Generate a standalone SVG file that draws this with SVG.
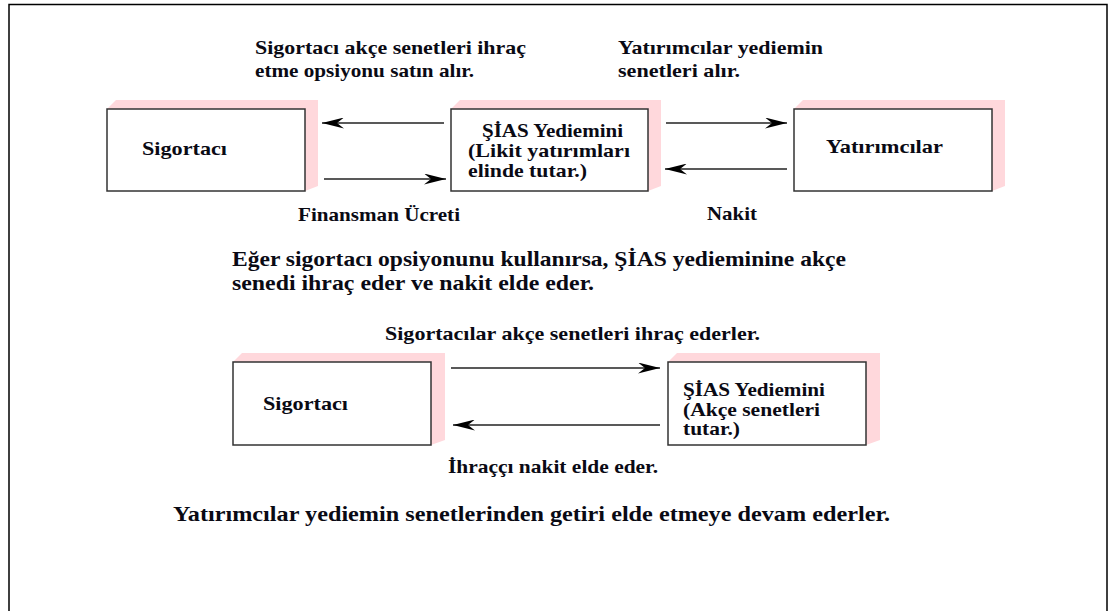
<svg xmlns="http://www.w3.org/2000/svg" width="1113" height="611" viewBox="0 0 1113 611">
<style>
text{font-family:'Liberation Serif','DejaVu Serif',serif;font-weight:700;fill:#0a0a14}
.box{fill:#fff;stroke:#333;stroke-width:1.5}
.ext{fill:#ffd8dc}
.con{stroke:#222;stroke-width:1.3;fill:none;marker-end:url(#ah)}
.t18{font-size:19px}
.t20{font-size:21px}
</style>
<defs>
<marker id="ah" markerUnits="userSpaceOnUse" viewBox="0 0 22 11" markerWidth="22" markerHeight="11" refX="22" refY="5.5" orient="auto">
<path d="M0,0 L22,5.5 L0,11 L7,5.5 Z" fill="#000"/>
</marker>
</defs>
<rect width="1113" height="611" fill="#fff"/>
<path d="M9,611 V4.5 H1107 V611" fill="none" stroke="#000" stroke-width="1.5"/>

<g id="label-top-left">
<text class="t18" x="255" y="54" textLength="271" lengthAdjust="spacingAndGlyphs">Sigortacı akçe senetleri ihraç</text>
<text class="t18" x="255" y="77" textLength="219" lengthAdjust="spacingAndGlyphs">etme opsiyonu satın alır.</text>
</g>
<g id="label-top-right">
<text class="t18" x="618" y="54" textLength="205" lengthAdjust="spacingAndGlyphs">Yatırımcılar yediemin</text>
<text class="t18" x="618" y="77" textLength="122" lengthAdjust="spacingAndGlyphs">senetleri alır.</text>
</g>

<g id="node-sigortaci-1">
<polygon class="ext" points="107,109 116,100 318,100 318,186 305,191"/>
<rect class="box" x="107" y="109" width="198" height="82"/>
<text class="t18" x="142" y="155" textLength="85" lengthAdjust="spacingAndGlyphs">Sigortacı</text>
</g>
<g id="node-sias-1">
<polygon class="ext" points="451,109 460,100 661,100 661,186 648,191"/>
<rect class="box" x="451" y="109" width="197" height="82"/>
<text class="t18" x="482" y="137" textLength="141" lengthAdjust="spacingAndGlyphs">ŞİAS Yediemini</text>
<text class="t18" x="468" y="157" textLength="162" lengthAdjust="spacingAndGlyphs">(Likit yatırımları</text>
<text class="t18" x="468" y="177" textLength="119" lengthAdjust="spacingAndGlyphs">elinde tutar.)</text>
</g>
<g id="node-yatirimcilar">
<polygon class="ext" points="794,109 803,100 1005,100 1005,186 992,191"/>
<rect class="box" x="794" y="109" width="198" height="82"/>
<text class="t18" x="826" y="153" textLength="117" lengthAdjust="spacingAndGlyphs">Yatırımcılar</text>
</g>

<g id="label-finansman"><text class="t18" x="298" y="221" textLength="162" lengthAdjust="spacingAndGlyphs">Finansman Ücreti</text></g>
<g id="label-nakit"><text class="t18" x="707" y="220" textLength="50" lengthAdjust="spacingAndGlyphs">Nakit</text></g>

<g id="label-eger">
<text class="t20" x="232" y="266" textLength="614" lengthAdjust="spacingAndGlyphs">Eğer sigortacı opsiyonunu kullanırsa, ŞİAS yedieminine akçe</text>
<text class="t20" x="232" y="290" textLength="362" lengthAdjust="spacingAndGlyphs">senedi ihraç eder ve nakit elde eder.</text>
</g>
<g id="label-sigortacilar"><text class="t18" x="385" y="340" textLength="375" lengthAdjust="spacingAndGlyphs">Sigortacılar akçe senetleri ihraç ederler.</text></g>

<g id="node-sigortaci-2">
<polygon class="ext" points="233,362 242,353 445,353 445,440 431,445"/>
<rect class="box" x="233" y="362" width="198" height="83"/>
<text class="t18" x="263" y="410" textLength="85" lengthAdjust="spacingAndGlyphs">Sigortacı</text>
</g>
<g id="node-sias-2">
<polygon class="ext" points="668,362 677,353 880,353 880,440 866,445"/>
<rect class="box" x="668" y="362" width="198" height="83"/>
<text class="t18" x="683" y="396" textLength="142" lengthAdjust="spacingAndGlyphs">ŞİAS Yediemini</text>
<text class="t18" x="683" y="416" textLength="137" lengthAdjust="spacingAndGlyphs">(Akçe senetleri</text>
<text class="t18" x="683" y="435" textLength="57" lengthAdjust="spacingAndGlyphs">tutar.)</text>
</g>

<g id="label-ihracci"><text class="t18" x="448" y="473" textLength="210" lengthAdjust="spacingAndGlyphs">İhraççı nakit elde eder.</text></g>
<g id="label-bottom"><text class="t20" x="173" y="521" textLength="717" lengthAdjust="spacingAndGlyphs">Yatırımcılar yediemin senetlerinden getiri elde etmeye devam ederler.</text></g>

<g id="connectors">
<line class="con" x1="444" y1="123" x2="322" y2="123"/>
<line class="con" x1="324" y1="179" x2="446" y2="179"/>
<line class="con" x1="666" y1="123" x2="787" y2="123"/>
<line class="con" x1="787" y1="169" x2="665" y2="169"/>
<line class="con" x1="451" y1="368" x2="660" y2="368"/>
<line class="con" x1="660" y1="425" x2="453" y2="425"/>
</g>
</svg>
